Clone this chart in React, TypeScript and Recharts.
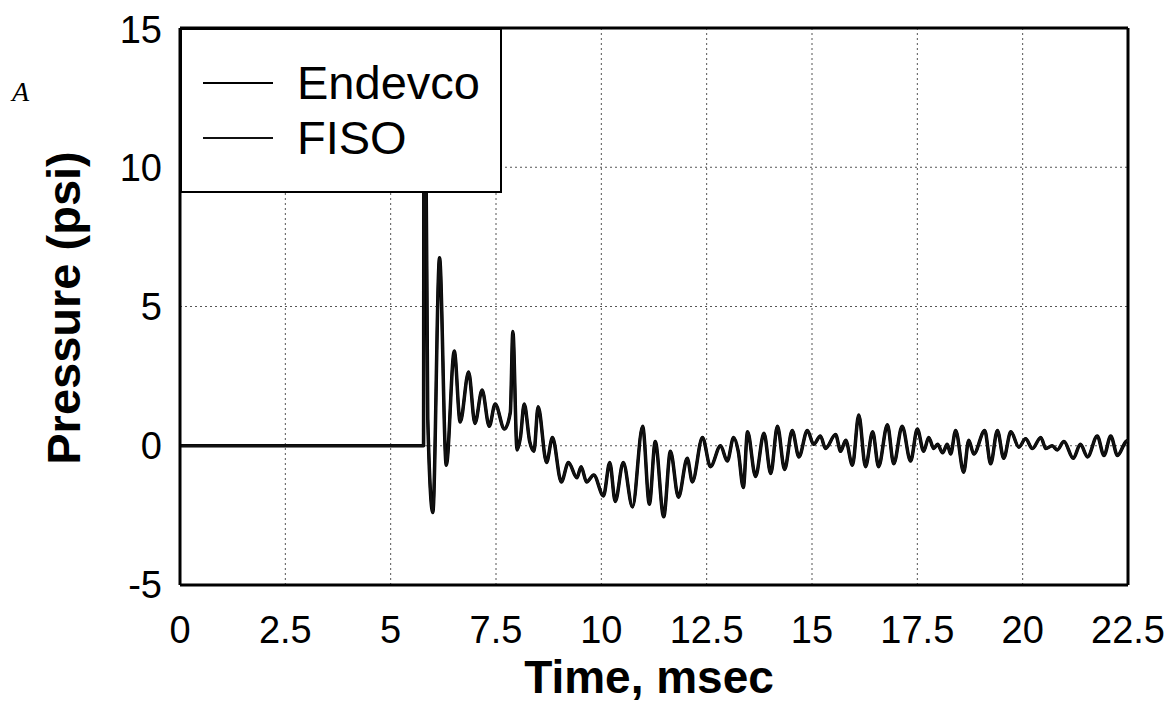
import React from "react";
import {
  LineChart,
  Line,
  XAxis,
  YAxis,
  CartesianGrid,
  Legend,
  ReferenceLine,
  Label,
} from "recharts";

// time in msec
const timeMs: number[] = [
  0, 5.78, 5.79, 5.83, 5.88, 6.0, 6.16, 6.32, 6.51, 6.65,
  6.85, 7.0, 7.17, 7.34, 7.48, 7.7, 7.84, 7.9, 8.0, 8.08,
  8.17, 8.3, 8.4, 8.5, 8.7, 8.84, 9.05, 9.22, 9.42, 9.52,
  9.65, 9.82, 10.05, 10.2, 10.33, 10.52, 10.74, 10.98, 11.14, 11.28,
  11.48, 11.64, 11.83,
  12.04, 12.16, 12.4, 12.59, 12.83, 12.99, 13.14, 13.25, 13.37, 13.47,
  13.66, 13.86, 14.02, 14.18, 14.35, 14.53, 14.69, 14.89, 15.04, 15.2,
  15.32, 15.56, 15.68, 15.8, 15.96, 16.11, 16.27,
  16.44, 16.58, 16.79, 16.94, 17.14, 17.34, 17.5, 17.65, 17.77, 17.89,
  17.98, 18.1, 18.21, 18.29, 18.41, 18.6, 18.72, 18.84, 19.1, 19.24,
  19.4, 19.55, 19.72, 19.91, 20.07, 20.23, 20.43, 20.55, 20.7, 20.82,
  20.98, 21.2, 21.37, 21.54, 21.77, 21.93, 22.09, 22.25, 22.45, 22.5,
];

// pressure in psi (both gauges sit on top of each other in the plot)
const pressurePsi: number[] = [
  0, 0, 12, 12, 1.0, -2.4, 6.75, -0.7, 3.4, 0.85,
  2.65, 0.8, 2.0, 0.7, 1.5, 0.6, 1.2, 4.1, -0.15, 0.3,
  1.5, 0.15, -0.2, 1.4, -0.6, 0.3, -1.3, -0.6, -1.15, -0.75,
  -1.3, -1.05, -1.8, -0.6, -2.0, -0.6, -2.2, 0.7, -2.1, 0.15,
  -2.55, -0.2, -1.85,
  -0.45, -1.3, 0.3, -0.75, 0.0, -0.55, 0.3, -0.2, -1.5, 0.5,
  -1.1, 0.45, -1.0, 0.7, -0.85, 0.55, -0.4, 0.55, 0.05, 0.35,
  -0.1, 0.4, -0.2, 0.2, -0.7, 1.1, -0.75,
  0.5, -0.75, 0.75, -0.65, 0.7, -0.55, 0.6, -0.2, 0.3, -0.1,
  0.05, -0.25, 0.05, -0.3, 0.55, -0.95, 0.2, -0.3, 0.55, -0.65,
  0.55, -0.45, 0.5, -0.05, 0.25, -0.1, 0.3, -0.1, 0, -0.15,
  0.15, -0.45, 0.05, -0.4, 0.35, -0.35, 0.35, -0.35, 0.15, 0.2,
];

const xTicks = [0, 2.5, 5, 7.5, 10, 12.5, 15, 17.5, 20, 22.5];
const yTicks = [-5, 0, 5, 10, 15];

const data = timeMs.map((t, i) => ({
  t,
  endevco: pressurePsi[i],
  fiso: pressurePsi[i],
}));

const FONT = "'Liberation Sans', Arial, sans-serif";

const LegendBox = (props: any) => {
  const { payload } = props;
  return (
    <div
      style={{
        width: 322,
        height: 165,
        boxSizing: "border-box",
        border: "2px solid #000",
        background: "#fff",
        paddingTop: 25,
        fontFamily: FONT,
        fontSize: 47,
      }}
    >
      {(payload || []).map((p: any) => (
        <div
          key={p.value}
          style={{ display: "flex", alignItems: "center", height: 55, lineHeight: "55px" }}
        >
          <div
            style={{ marginLeft: 21, width: 70, height: 2, background: p.color }}
          />
          <span style={{ marginLeft: 24, color: "#000" }}>{p.value}</span>
        </div>
      ))}
    </div>
  );
};

export default function App() {
  return (
    <div style={{ position: "relative", width: 1160, height: 705 }}>
      <LineChart
        width={1160}
        height={705}
        data={data}
        margin={{ top: 20, right: 40, left: 0, bottom: 0 }}
      >
        <CartesianGrid stroke="#555" strokeDasharray="2 3" strokeWidth={1} />
        <XAxis
          dataKey="t"
          type="number"
          domain={[0, 22.5]}
          ticks={xTicks}
          height={128}
          tickSize={0}
          tickMargin={31}
          axisLine={{ stroke: "#000", strokeWidth: 3 }}
          tick={{ fill: "#000", fontSize: 38, fontFamily: FONT }}
        >
          <Label
            content={() => (
              <text
                x={641}
                y={685}
                textAnchor="middle"
                fontFamily={FONT}
                fontWeight="bold"
                fontSize={46}
                fill="#000"
              >
                Time, msec
              </text>
            )}
          />
        </XAxis>
        <YAxis
          type="number"
          domain={[-5, 15]}
          ticks={yTicks}
          width={172}
          tickSize={0}
          tickMargin={18}
          axisLine={{ stroke: "#000", strokeWidth: 3 }}
          tick={{ fill: "#000", fontSize: 38, fontFamily: FONT }}
        >
          <Label
            content={() => (
              <text
                x={72}
                y={300}
                transform="rotate(-90, 72, 300)"
                textAnchor="middle"
                fontFamily={FONT}
                fontWeight="bold"
                fontSize={47}
                fill="#000"
              >
                Pressure (psi)
              </text>
            )}
          />
        </YAxis>
        <ReferenceLine y={15} stroke="#000" strokeWidth={3} />
        <ReferenceLine x={22.5} stroke="#000" strokeWidth={3} />
        <Line
          type="monotone"
          dataKey="endevco"
          name="Endevco"
          stroke="#000"
          strokeWidth={3.5}
          strokeLinejoin="round"
          dot={false}
          isAnimationActive={false}
        />
        <Line
          type="monotone"
          dataKey="fiso"
          name="FISO"
          stroke="#111"
          strokeWidth={2.5}
          strokeLinejoin="round"
          dot={false}
          isAnimationActive={false}
        />
        <Legend
          layout="vertical"
          align="center"
          verticalAlign="middle"
          content={LegendBox}
          wrapperStyle={{ left: 172, top: 20, width: 322, height: 165 }}
        />
        <text
          x={4}
          y={93}
          fill="#000"
          style={{
            fontFamily: "'Liberation Serif', 'Times New Roman', serif",
            fontStyle: "italic",
            fontSize: 28,
          }}
        >
          A
        </text>
      </LineChart>
    </div>
  );
}
